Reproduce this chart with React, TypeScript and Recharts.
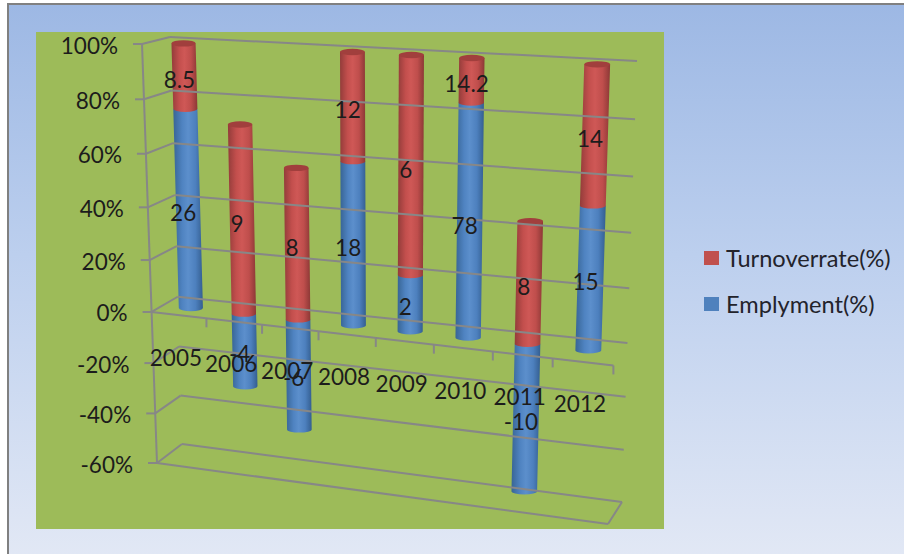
import React from "react";
import { ComposedChart, Bar, XAxis, YAxis, CartesianGrid, ReferenceLine, LabelList, Legend } from "recharts";

const years = ["2005", "2006", "2007", "2008", "2009", "2010", "2011", "2012"];
const employmentLabels = [26, -4, -6, 18, 2, 78, -10, 15];
const turnoverLabels = [8.5, 9, 8, 12, 6, 14.2, 8, 14];
const employmentShare = [76, -28.5, -43, 61, 21, 84.6, -55.6, 51.7];
const turnoverShare = [24, 71.5, 57, 39, 79, 15.4, 44.4, 48.3];
const yTicks = [100, 80, 60, 40, 20, 0, -20, -40, -60];

const data = years.map((year, i) => ({
  year,
  empLabel: employmentLabels[i],
  turnLabel: turnoverLabels[i],
  emp: employmentShare[i],
  turn: turnoverShare[i],
}));

const W = 904, H = 554;
const PLOT = { x: 36, y: 32, w: 628, h: 497 };
const FONT = "Lato, 'Noto Sans', sans-serif";
const GRAY = "#878787";
const INK = "#1c1c1c";
type P = [number, number];

// Square-to-quad perspective map: (u along the categories, t down the value axis)
function homography(p0: P, p1: P, p2: P, p3: P) {
  const dx1 = p1[0] - p2[0], dx2 = p3[0] - p2[0], sx = p0[0] - p1[0] + p2[0] - p3[0];
  const dy1 = p1[1] - p2[1], dy2 = p3[1] - p2[1], sy = p0[1] - p1[1] + p2[1] - p3[1];
  const den = dx1 * dy2 - dx2 * dy1;
  const g = (sx * dy2 - dx2 * sy) / den;
  const h = (dx1 * sy - sx * dy1) / den;
  const a = p1[0] - p0[0] + g * p1[0], b = p3[0] - p0[0] + h * p3[0], c = p0[0];
  const d = p1[1] - p0[1] + g * p1[1], e = p3[1] - p0[1] + h * p3[1], f = p0[1];
  return (u: number, v: number): P => {
    const t = (100 - v) / 160;
    const q = g * u + h * t + 1;
    return [(a * u + b * t + c) / q, (d * u + e * t + f) / q];
  };
}

const barPlane = homography([156.5, 42], [629.5, 66], [613.5, 515], [169.5, 454]);
const backWall = homography([170, 37], [637, 61], [622, 502], [182, 444]);
const frontWall = homography([142, 44], [623, 83], [608, 524], [157, 463]);

const toValue = (py: number) => 100 - ((py - PLOT.y) / PLOT.h) * 160;
const toU = (px: number) => (px - PLOT.x) / PLOT.w;

function line(a: P, b: P, key?: string) {
  return <line key={key} x1={a[0]} y1={a[1]} x2={b[0]} y2={b[1]} stroke={GRAY} strokeWidth={2} />;
}

function WallLine(props: any) {
  const v = toValue(props.y1 ?? props.y ?? 0);
  const f = frontWall(0, v), b = backWall(0, v), br = backWall(1, v);
  return (
    <g>
      {line(b, br)}
      {line(f, b)}
      {line([f[0] - 9, f[1]], f)}
    </g>
  );
}

function FrontFrame(props: any) {
  const v = toValue(props.y1 ?? props.y ?? 0);
  return (
    <g>
      {line(frontWall(0, v), frontWall(1, v))}
      {line(frontWall(1, v), backWall(1, v))}
      {line(frontWall(0, 100), frontWall(0, -60))}
    </g>
  );
}

function Cylinder(props: any, grad: string, cap: string | null) {
  const { x, y, width, height } = props;
  const u = toU(x + width / 2);
  const top = Math.min(y, y + height), bottom = Math.max(y, y + height);
  const a = barPlane(u, toValue(top)), b = barPlane(u, toValue(bottom));
  const r = 12 + u, ry = 3.2;
  const d = `M${a[0] - r},${a[1]} L${b[0] - r},${b[1]} A${r},${ry} 0 0 0 ${b[0] + r},${b[1]} L${a[0] + r},${a[1]} Z`;
  return (
    <g>
      <path d={d} fill={`url(#${grad})`} />
      {cap && <ellipse cx={a[0]} cy={a[1]} rx={r} ry={ry} fill={cap} />}
    </g>
  );
}

function BarLabel(props: any) {
  const { x, y, width, height, value } = props;
  const u = toU(x + width / 2);
  const mid = barPlane(u, toValue(y + height / 2));
  return (
    <text x={mid[0] - 5} y={mid[1] + 3} textAnchor="middle" dominantBaseline="central"
      fontFamily={FONT} fontSize={22.5} fill={INK}>
      {value}
    </text>
  );
}

function YTick(props: any) {
  const v = props.payload.value;
  const f = frontWall(0, v);
  return (
    <text x={f[0] - 24} y={f[1] + 1} textAnchor="end" dominantBaseline="central"
      fontFamily={FONT} fontSize={22.5} fill={INK}>
      {v}%
    </text>
  );
}

function XTick(props: any) {
  const i = props.index;
  const c = frontWall((i + 0.5) / years.length, 0);
  const m = frontWall((i + 1) / years.length, 0);
  return (
    <g>
      {line(m, [m[0], m[1] + 9])}
      <text x={c[0] - 3} y={c[1] + 42} textAnchor="middle" dominantBaseline="central"
        fontFamily={FONT} fontSize={22.5} fill={INK}>
        {props.payload.value}
      </text>
    </g>
  );
}

function LegendBox(props: any) {
  const items = [...(props.payload || [])].reverse();
  return (
    <div style={{ width: 200 }}>
      {items.map((it: any) => (
        <div key={it.value} style={{ height: 46.5, display: "flex", alignItems: "center" }}>
          <span style={{ width: 15, height: 14, background: it.color, display: "inline-block", marginRight: 7 }} />
          <span style={{ fontFamily: FONT, fontSize: 23.6, color: "#23232b", whiteSpace: "nowrap" }}>{it.value}</span>
        </div>
      ))}
    </div>
  );
}

export default function App() {
  return (
    <div style={{ position: "absolute", left: 0, top: 0, width: W, height: H, overflow: "hidden", background: "#fff" }}>
      <div style={{
        position: "absolute", left: 7, top: 3, width: W, height: H,
        borderLeft: "2px solid #808080", borderTop: "2px solid #808080",
        background: "linear-gradient(180deg, #9db8e4 0%, #bccfee 45%, #e2e8f5 100%)",
      }} />
      <div style={{ position: "absolute", left: 0, top: 0 }}>
        <ComposedChart width={W} height={H} data={data} stackOffset="sign" barCategoryGap="50%"
          margin={{ left: PLOT.x - 1, top: PLOT.y, right: W - PLOT.x - PLOT.w - 200, bottom: H - PLOT.y - PLOT.h - 1 }}>
          <defs>
            <linearGradient id="cylBlue" x1="0" y1="0" x2="1" y2="0">
              <stop offset="0" stopColor="#386595" />
              <stop offset="0.3" stopColor="#4f83c1" />
              <stop offset="0.5" stopColor="#5c8fcc" />
              <stop offset="0.75" stopColor="#4d80be" />
              <stop offset="1" stopColor="#345e90" />
            </linearGradient>
            <linearGradient id="cylRed" x1="0" y1="0" x2="1" y2="0">
              <stop offset="0" stopColor="#933c3a" />
              <stop offset="0.3" stopColor="#c34f4d" />
              <stop offset="0.5" stopColor="#cf5856" />
              <stop offset="0.75" stopColor="#bf4e4c" />
              <stop offset="1" stopColor="#8c3836" />
            </linearGradient>
          </defs>
          <CartesianGrid fill="#9dbb59" horizontal={false} vertical={false} />
          {yTicks.map((t) => (
            <ReferenceLine key={t} y={t} shape={WallLine} />
          ))}
          <ReferenceLine y={0} shape={(p: any) => {
            const v = toValue(p.y1 ?? 0);
            return line(frontWall(0, v), frontWall(1, v));
          }} />
          <ReferenceLine y={-60} shape={FrontFrame} />
          <Bar dataKey="emp" name="Emplyment(%)" stackId="a" fill="#4f81bd" isAnimationActive={false}
            shape={(p: any) => Cylinder(p, "cylBlue", null)}>
            <LabelList dataKey="empLabel" content={BarLabel} />
          </Bar>
          <Bar dataKey="turn" name="Turnoverrate(%)" stackId="a" fill="#c0504d" isAnimationActive={false}
            shape={(p: any) => Cylinder(p, "cylRed", "#a13f3d")}>
            <LabelList dataKey="turnLabel" content={BarLabel} />
          </Bar>
          <XAxis dataKey="year" height={1} axisLine={false} tickLine={false} interval={0} tick={XTick} />
          <YAxis type="number" domain={[-60, 100]} ticks={yTicks} width={1} axisLine={false} tickLine={false}
            interval={0} tick={YTick} />
          <Legend layout="vertical" align="right" verticalAlign="top" width={200} content={LegendBox}
            wrapperStyle={{ left: 704, top: 234.5, right: "auto" }} />
        </ComposedChart>
      </div>
    </div>
  );
}
